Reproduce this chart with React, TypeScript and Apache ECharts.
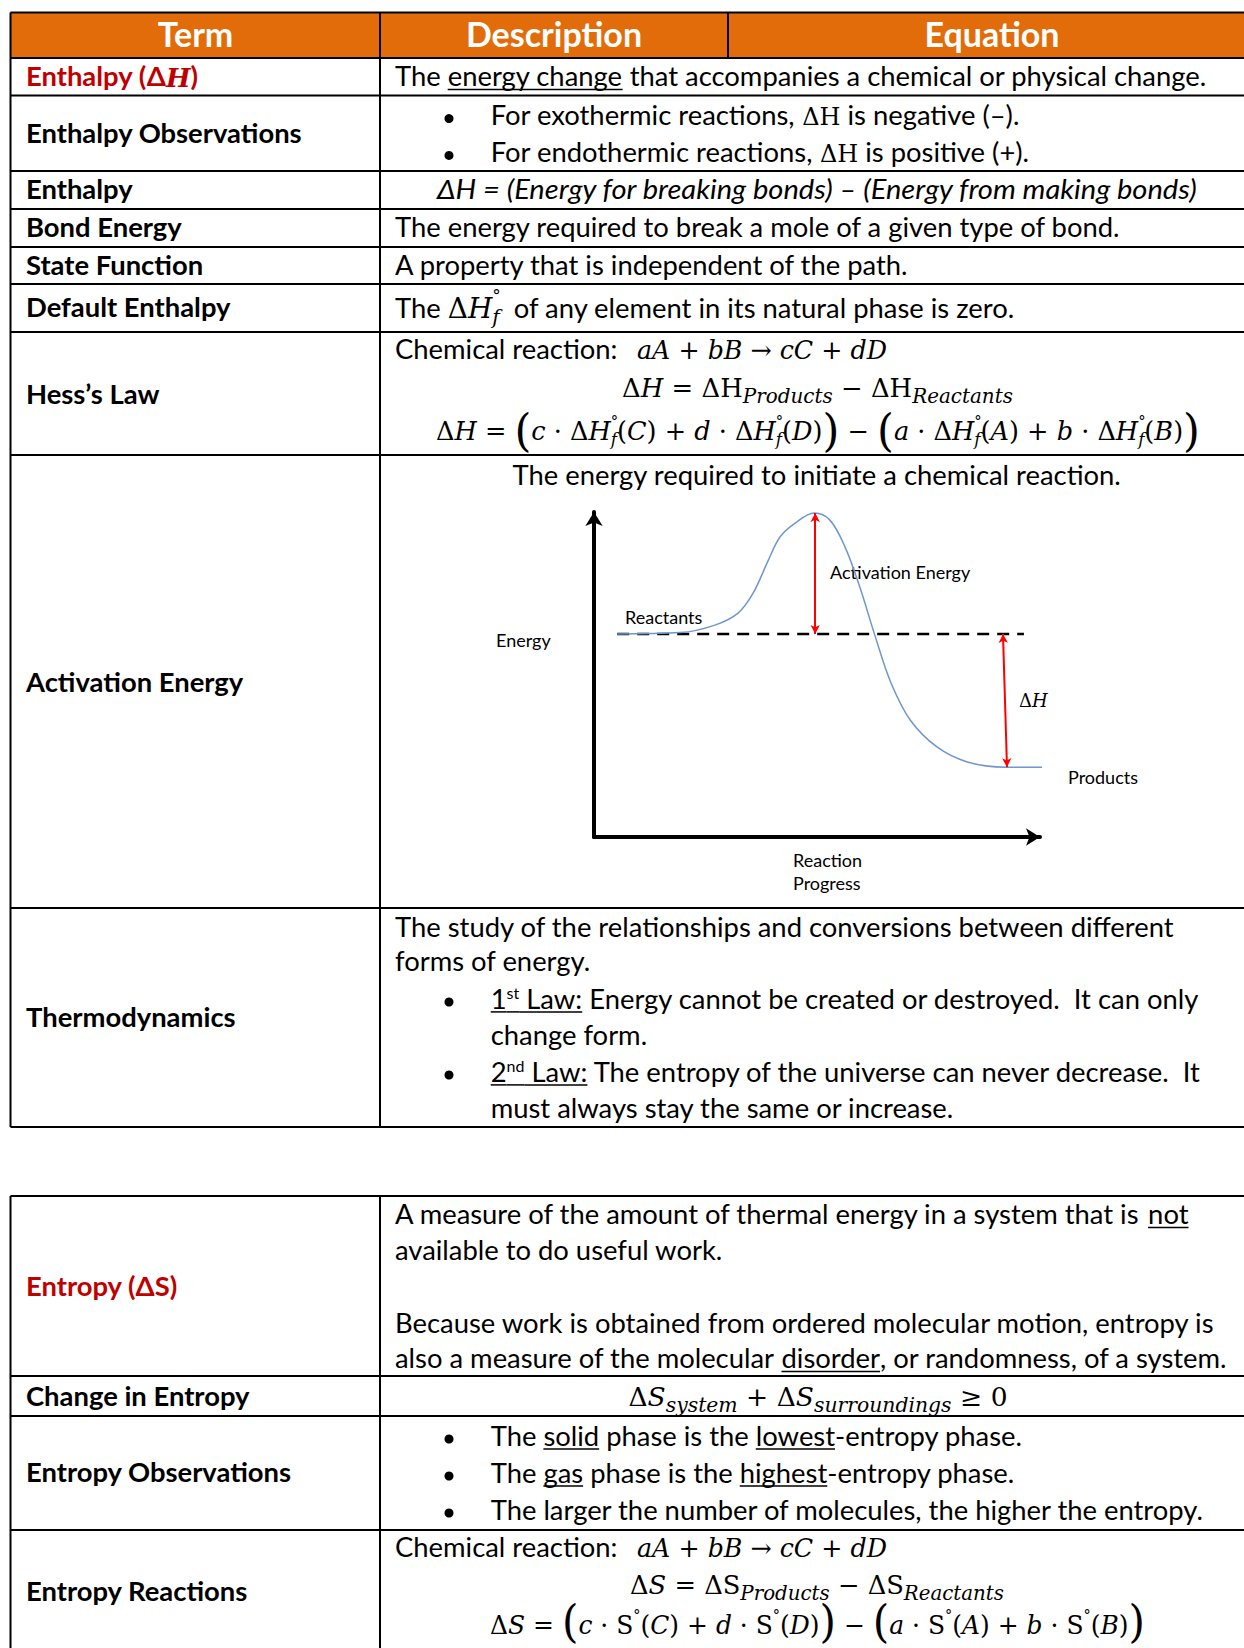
import React, { useEffect, useRef } from 'react';
import * as echarts from 'echarts';

const SANS = 'Lato';
const SERIF = 'DejaVu Serif';
const ORANGE = '#E36C0A';
const RED = '#C00000';

// ---------- content ----------
const headers = ['Term', 'Description', 'Equation'];
const termsTable1 = ['Enthalpy Observations', 'Enthalpy', 'Bond Energy', 'State Function', 'Default Enthalpy', 'Hess’s Law', 'Activation Energy', 'Thermodynamics'];
const termsTable2 = ['Change in Entropy', 'Entropy Observations', 'Entropy Reactions'];
const simpleDescriptions = [
  'The energy required to break a mole of a given type of bond.',
  'A property that is independent of the path.',
];
const thermoLines = [
  'The study of the relationships and conversions between different',
  'forms of energy.',
];
const entropyLines = [
  'available to do useful work.',
  'Because work is obtained from ordered molecular motion, entropy is',
];
const diagramLabels = ['Reactants', 'Activation Energy', 'Energy', 'Products', 'Reaction', 'Progress'];

// ---------- diagram data (reaction progress 0..100, energy 0..100) ----------
const progressX = [5.2, 19.4, 27.1, 32.3, 35.7, 39.1, 41.7, 45.1, 49.4, 52.9, 56.3, 59.6, 63.1, 66.6, 70.9, 76.9, 83.7, 92.4, 100.8];
const energyY = [62.5, 62.9, 65.2, 68.9, 75.1, 85.2, 92.3, 96.6, 99.7, 97.5, 89.2, 76.9, 61.5, 47.4, 36.0, 27.7, 23.1, 21.5, 21.5];
const reactantLevel = 62.5;
const productLevel = 21.5;
const peakEnergy = 99.7;
const dashedRange = [5.2, 96.4];
const activationX = 49.6;
const deltaHX = [91.7, 92.6];

// ---------- layout ----------
const T1_LINES = [12.6, 58, 95.6, 171, 209, 247, 284, 332, 455, 908, 1127];
const T2_LINES = [1196, 1376, 1416, 1530];
const X_LEFT = 10.5, X_COL = 380, X_HEAD = 728, X_RIGHT = 1244;
const BODY = 27.4;
const GLOBAL_DY = 1.5;

type Seg = { t: string; s?: number; b?: boolean; i?: boolean; m?: boolean; dy?: number; u?: boolean; c?: string; na?: boolean };

let cv: CanvasRenderingContext2D | null = null;
function fontStr(sg: Seg, size: number, bold?: boolean) {
  return `${sg.i ? 'italic ' : ''}${bold ? 'bold ' : ''}${size}px "${sg.m ? SERIF : SANS}"`;
}
function measure(sg: Seg, size: number, bold?: boolean) {
  if (!cv) cv = document.createElement('canvas').getContext('2d');
  cv!.font = fontStr(sg, size, bold);
  return cv!.measureText(sg.t).width;
}

function run(out: any[], x: number, y: number, segs: Seg[], opt: { align?: 'left' | 'center'; size?: number; color?: string; bold?: boolean; w?: number } = {}) {
  const base = opt.size ?? BODY;
  const widths = segs.map((sg) => (sg.na ? 0 : measure(sg, sg.s ?? base, sg.b ?? opt.bold)));
  const total = widths.reduce((a, b) => a + b, 0);
  const sx = opt.w ? opt.w / total : 1;
  let cx = opt.align === 'center' ? x - (total * sx) / 2 : x;
  const baseline = y + 0.27 * base + GLOBAL_DY;
  segs.forEach((sg, idx) => {
    const size = sg.s ?? base;
    const bold = sg.b ?? opt.bold;
    const k = sg.m ? 0.346 : 0.387;
    out.push({
      type: 'text',
      x: cx,
      y: baseline + (sg.dy ?? 0) - k * size,
      scaleX: sx,
      silent: true,
      style: {
        text: sg.t,
        fontSize: size,
        fontFamily: sg.m ? SERIF : SANS,
        fontWeight: bold ? 'bold' : 'normal',
        fontStyle: sg.i ? 'italic' : 'normal',
        fill: sg.c ?? opt.color ?? '#000',
        align: 'left',
        verticalAlign: 'middle',
      },
    });
    if (sg.u) {
      const w = measure(sg, size, bold) * sx;
      out.push({ type: 'line', silent: true, shape: { x1: cx, y1: baseline + 3, x2: cx + w, y2: baseline + 3 }, style: { stroke: '#000', lineWidth: 1.5 } });
    }
    cx += widths[idx] * sx;
  });
}

const S = (t: string, o: Partial<Seg> = {}): Seg => ({ t, ...o });
const M = (t: string, o: Partial<Seg> = {}): Seg => ({ t, m: true, s: 26, ...o });
const MI = (t: string, o: Partial<Seg> = {}): Seg => ({ t, m: true, i: true, s: 26, ...o });

const chemReaction = (): Seg[] => [MI('aA'), M(' + '), MI('bB'), M(' → '), MI('cC'), M(' + '), MI('dD')];
const deltaDiff = (L: string): Seg[] => [M('Δ'), MI(L), M(' = '), M('Δ' + L), MI('Products', { s: 20, dy: 6 }), M(' − '), M('Δ' + L), MI('Reactants', { s: 20, dy: 6 })];
const dHf = (): Seg[] => [M('Δ'), MI('H'), M('°', { s: 15, dy: -14, na: true }), MI('f', { s: 17, dy: 5 })];
const Sdeg = (): Seg[] => [M('S'), M('°', { s: 15, dy: -14 })];
const bigL = (dy = 6): Seg => M('(', { s: 44, dy });
const bigR = (dy = 6): Seg => M(')', { s: 44, dy });

function bullet(out: any[], y: number) {
  out.push({ type: 'circle', silent: true, shape: { cx: 449, cy: y + 2, r: 4.5 }, style: { fill: '#000' } });
}

function buildGraphics() {
  const g: any[] = [];
  // header
  g.push({ type: 'rect', silent: true, shape: { x: X_LEFT, y: T1_LINES[0], width: X_RIGHT - X_LEFT, height: T1_LINES[1] - T1_LINES[0] }, style: { fill: ORANGE } });
  const hx = [195.5, 554, 992];
  headers.forEach((h, i) => run(g, hx[i], 35.5, [S(h)], { align: 'center', size: 34, bold: true, color: '#fff' }));

  // grid lines
  const L = (x1: number, y1: number, x2: number, y2: number, w = 2) =>
    g.push({ type: 'line', silent: true, shape: { x1, y1, x2, y2 }, style: { stroke: '#000', lineWidth: w } });
  T1_LINES.forEach((y) => L(X_LEFT, y, X_RIGHT, y));
  T2_LINES.forEach((y) => L(X_LEFT, y, X_RIGHT, y));
  L(X_LEFT, T1_LINES[0], X_LEFT, T1_LINES[T1_LINES.length - 1]);
  L(X_COL, T1_LINES[0], X_COL, T1_LINES[T1_LINES.length - 1]);
  L(X_HEAD, T1_LINES[0], X_HEAD, T1_LINES[1]);
  L(X_LEFT, T2_LINES[0], X_LEFT, 1648);
  L(X_COL, T2_LINES[0], X_COL, 1648);

  // terms
  const TX = 26;
  run(g, TX, 77.7, [S('Enthalpy ('), S('Δ'), MI('H', { s: 26, b: true }), S(')')], { bold: true, color: RED });
  const t1y = [134.5, 190, 228, 266, 308, 395, 683, 1018];
  termsTable1.forEach((t, i) => run(g, TX, t1y[i], [S(t)], { bold: true }));
  run(g, TX, 1287, [S('Entropy (ΔS)')], { bold: true, color: RED });
  const t2y = [1397, 1473, 1592];
  termsTable2.forEach((t, i) => run(g, TX, t2y[i], [S(t)], { bold: true }));

  // descriptions
  const DX = 395, BX = 490.7;
  run(g, DX, 77.7, [S('The '), S('energy change', { u: true }), S(' that accompanies a chemical or physical change.')]);
  bullet(g, 116.6);
  run(g, BX, 116.6, [S('For exothermic reactions, '), M('ΔH', { s: 24 }), S(' is negative (–).')]);
  bullet(g, 153.4);
  run(g, BX, 153.4, [S('For endothermic reactions, '), M('ΔH', { s: 24 }), S(' is positive (+).')]);
  run(g, 818, 190, [S('ΔH = (Energy for breaking bonds) – (Energy from making bonds)', { i: true })], { align: 'center', w: 762 });
  run(g, DX, 228, [S(simpleDescriptions[0])]);
  run(g, DX, 266, [S(simpleDescriptions[1])]);
  run(g, DX, 309, [S('The '), M('Δ', { s: 28 }), MI('H', { s: 28 }), M('°', { s: 17, dy: -17, na: true }), MI('f', { s: 20, dy: 6 }), S('  of any element in its natural phase is zero.')]);

  // Hess's law
  run(g, DX, 350, [S('Chemical reaction:')]);
  run(g, 637, 350, chemReaction(), { w: 250 });
  run(g, 817.5, 388, deltaDiff('H'), { align: 'center', w: 391 });
  run(g, 818, 431, [M('Δ'), MI('H'), M(' = '), bigL(), MI('c'), M(' · '), ...dHf(), M('('), MI('C'), M(')'), M(' + '), MI('d'), M(' · '), ...dHf(), M('('), MI('D'), M(')'), bigR(), M(' − '), bigL(), MI('a'), M(' · '), ...dHf(), M('('), MI('A'), M(')'), M(' + '), MI('b'), M(' · '), ...dHf(), M('('), MI('B'), M(')'), bigR()], { align: 'center', w: 764 });

  // activation energy
  run(g, 817, 476, [S('The energy required to initiate a chemical reaction.')], { align: 'center' });
  run(g, 625, 618, [S(diagramLabels[0])], { size: 18 });
  run(g, 830, 573, [S(diagramLabels[1])], { size: 18 });
  run(g, 496, 641, [S(diagramLabels[2])], { size: 18 });
  run(g, 1019, 700, [M('Δ', { s: 18 }), MI('H', { s: 18 })], { size: 18 });
  run(g, 1068, 778, [S(diagramLabels[3])], { size: 18 });
  run(g, 793, 861, [S(diagramLabels[4])], { size: 18 });
  run(g, 793, 884, [S(diagramLabels[5])], { size: 18 });

  // thermodynamics
  run(g, DX, 928, [S(thermoLines[0])]);
  run(g, DX, 962.5, [S(thermoLines[1])]);
  bullet(g, 1000);
  run(g, BX, 1000, [S('1', { u: true }), S('st', { s: 16, dy: -10, u: true }), S(' Law:', { u: true }), S(' Energy cannot be created or destroyed.  It can only')]);
  run(g, BX, 1036, [S('change form.')]);
  bullet(g, 1073);
  run(g, BX, 1073, [S('2', { u: true }), S('nd', { s: 16, dy: -10, u: true }), S(' Law:', { u: true }), S(' The entropy of the universe can never decrease.  It')]);
  run(g, BX, 1109.5, [S('must always stay the same or increase.')]);

  // entropy
  run(g, DX, 1215.6, [S('A measure of the amount of thermal energy in a system that is '), S('not', { u: true })]);
  run(g, DX, 1251, [S(entropyLines[0])]);
  run(g, DX, 1324, [S(entropyLines[1])]);
  run(g, DX, 1359.6, [S('also a measure of the molecular '), S('disorder', { u: true }), S(', or randomness, of a system.')]);
  run(g, 818, 1397, [M('Δ'), MI('S'), MI('system', { s: 20, dy: 6 }), M(' + '), M('Δ'), MI('S'), MI('surroundings', { s: 20, dy: 6 }), M(' ≥ 0')], { align: 'center', w: 379 });
  bullet(g, 1437);
  run(g, BX, 1437, [S('The '), S('solid', { u: true }), S(' phase is the '), S('lowest', { u: true }), S('-entropy phase.')]);
  bullet(g, 1474);
  run(g, BX, 1474, [S('The '), S('gas', { u: true }), S(' phase is the '), S('highest', { u: true }), S('-entropy phase.')]);
  bullet(g, 1511);
  run(g, BX, 1511, [S('The larger the number of molecules, the higher the entropy.')]);
  run(g, DX, 1548, [S('Chemical reaction:')]);
  run(g, 637, 1548, chemReaction(), { w: 250 });
  run(g, 817, 1585, deltaDiff('S'), { align: 'center', w: 374 });
  run(g, 817.5, 1625, [M('Δ'), MI('S'), M(' = '), bigL(3), MI('c'), M(' · '), ...Sdeg(), M('('), MI('C'), M(')'), M(' + '), MI('d'), M(' · '), ...Sdeg(), M('('), MI('D'), M(')'), bigR(3), M(' − '), bigL(3), MI('a'), M(' · '), ...Sdeg(), M('('), MI('A'), M(')'), M(' + '), MI('b'), M(' · '), ...Sdeg(), M('('), MI('B'), M(')'), bigR(3)], { align: 'center', w: 655 });

  return g;
}

function buildOption(): any {
  const axisCommon = {
    type: 'value',
    min: 0,
    max: 100,
    axisTick: { show: false },
    axisLabel: { show: false },
    splitLine: { show: false },
    axisLine: { show: true, symbol: ['none', 'arrow'], symbolSize: [13, 14], lineStyle: { color: '#000', width: 4 } },
  };
  return {
    animation: false,
    backgroundColor: '#fff',
    grid: { left: 594, top: 512, width: 446, height: 325 },
    xAxis: { ...axisCommon },
    yAxis: { ...axisCommon },
    graphic: { elements: buildGraphics() },
    series: [
      {
        type: 'line',
        data: progressX.map((x, i) => [x, energyY[i]]),
        smooth: 0.35,
        symbol: 'none',
        clip: false,
        lineStyle: { color: '#6F97CC', width: 1.5 },
        z: 3,
      },
      {
        type: 'line',
        data: [[dashedRange[0], reactantLevel], [dashedRange[1], reactantLevel]],
        symbol: 'none',
        clip: false,
        lineStyle: { color: '#000', width: 2.5, type: [12, 8] },
        z: 2,
      },
      {
        type: 'line',
        data: [],
        symbol: 'none',
        markLine: {
          silent: true,
          symbol: ['arrow', 'arrow'],
          symbolSize: [7, 9],
          label: { show: false },
          lineStyle: { color: '#FF0000', width: 2, type: 'solid' },
          data: [
            [{ coord: [activationX, peakEnergy] }, { coord: [activationX, reactantLevel] }],
            [{ coord: [deltaHX[0], reactantLevel] }, { coord: [deltaHX[1], productLevel] }],
          ],
        },
        z: 4,
      },
    ],
  };
}

export default function App() {
  const ref = useRef<HTMLDivElement>(null);
  useEffect(() => {
    const chart = echarts.init(ref.current!, null, { renderer: 'svg' });
    chart.setOption(buildOption());
    return () => chart.dispose();
  }, []);
  return <div ref={ref} style={{ position: 'absolute', left: 0, top: 0, width: 1244, height: 1648, background: '#fff' }} />;
}
